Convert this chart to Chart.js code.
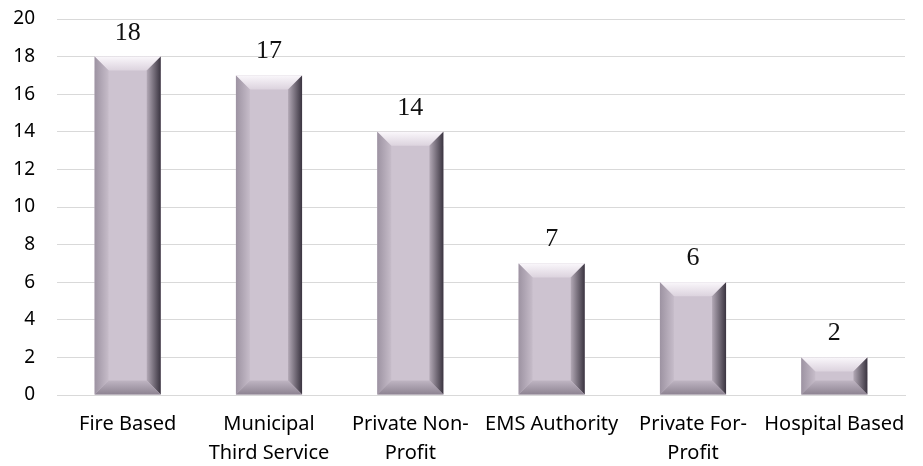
<!DOCTYPE html>
<html>
<head>
<meta charset="utf-8">
<script src="https://cdn.jsdelivr.net/npm/chart.js@4/dist/chart.umd.min.js"></script>
<style>
  html, body { margin: 0; padding: 0; background: #fff; }
  #wrap { width: 923px; height: 466px; position: relative; }
</style>
</head>
<body>
<div id="wrap"><canvas id="chart"></canvas></div>
<script>
// agency types and counts
const CATEGORIES = [
  'Fire Based',
  ['Municipal', 'Third Service'],
  ['Private Non-', 'Profit'],
  'EMS Authority',
  ['Private For-', 'Profit'],
  'Hospital Based'
];
const COUNTS = [18, 17, 14, 7, 6, 2];
const Y_TICKS = [0, 2, 4, 6, 8, 10, 12, 14, 16, 18, 20];

const BASE = '#cdc3d0';

// draws the bevelled edges on each bar + the value above it
const bevelBars = {
  id: 'bevelBars',
  afterDatasetsDraw(c) {
    const ctx = c.ctx;
    const meta = c.getDatasetMeta(0);
    meta.data.forEach((bar, i) => {
      const l = bar.x - bar.width / 2, r = bar.x + bar.width / 2;
      const t = bar.y, b = bar.base;
      const k = Math.min(14, (b - t) / 2.6);
      ctx.save();

      // top
      let g = ctx.createLinearGradient(0, t, 0, t + k);
      g.addColorStop(0, '#faf7fb'); g.addColorStop(1, '#dcd3de');
      ctx.fillStyle = g;
      ctx.beginPath(); ctx.moveTo(l, t); ctx.lineTo(r, t); ctx.lineTo(r - k, t + k); ctx.lineTo(l + k, t + k); ctx.closePath(); ctx.fill();

      // left
      g = ctx.createLinearGradient(l, 0, l + k, 0);
      g.addColorStop(0, '#9d93a2'); g.addColorStop(1, '#c6bcc9');
      ctx.fillStyle = g;
      ctx.beginPath(); ctx.moveTo(l, t); ctx.lineTo(l + k, t + k); ctx.lineTo(l + k, b - k); ctx.lineTo(l, b); ctx.closePath(); ctx.fill();

      // right
      g = ctx.createLinearGradient(r - k, 0, r, 0);
      g.addColorStop(0, '#b3a9b6'); g.addColorStop(1, '#3a3440');
      ctx.fillStyle = g;
      ctx.beginPath(); ctx.moveTo(r, t); ctx.lineTo(r, b); ctx.lineTo(r - k, b - k); ctx.lineTo(r - k, t + k); ctx.closePath(); ctx.fill();

      // bottom
      g = ctx.createLinearGradient(0, b - k, 0, b);
      g.addColorStop(0, '#bfb5c2'); g.addColorStop(1, '#8d8392');
      ctx.fillStyle = g;
      ctx.beginPath(); ctx.moveTo(l, b); ctx.lineTo(l + k, b - k); ctx.lineTo(r - k, b - k); ctx.lineTo(r, b); ctx.closePath(); ctx.fill();

      // value label
      ctx.fillStyle = '#111';
      ctx.font = '26px "Liberation Serif", serif';
      ctx.textAlign = 'center';
      ctx.textBaseline = 'alphabetic';
      ctx.fillText(String(COUNTS[i]), bar.x, t - 17);
      ctx.restore();
    });
  }
};

const chart = new Chart(document.getElementById('chart'), {
  type: 'bar',
  data: {
    labels: CATEGORIES,
    datasets: [{
      data: COUNTS,
      backgroundColor: BASE,
      borderWidth: 0,
      barPercentage: 0.78,
      categoryPercentage: 0.6
    }]
  },
  options: {
    responsive: true,
    maintainAspectRatio: false,
    animation: false,
    layout: { padding: { top: 19, right: 18, left: 4, bottom: 0 } },
    plugins: { legend: { display: false }, tooltip: { enabled: false } },
    scales: {
      x: {
        grid: { display: false, drawTicks: false },
        border: { color: '#d9d9d9', width: 1 },
        ticks: { color: '#000', font: { family: '"Noto Sans", sans-serif', size: 20, lineHeight: 1.45 }, padding: 15, maxRotation: 0, autoSkip: false },
        afterFit: s => { s.height = 71; }
      },
      y: {
        min: 0, max: 20,
        afterBuildTicks: s => { s.ticks = Y_TICKS.map(v => ({ value: v })); },
        grid: { color: '#d9d9d9', lineWidth: 1, drawTicks: false },
        border: { display: false },
        ticks: { color: '#000', font: { family: '"Noto Sans", sans-serif', size: 19 }, padding: 22 },
        afterFit: s => { s.width = 53; s.paddingTop = 11; s.paddingBottom = 11; }
      }
    }
  },
  plugins: [bevelBars]
});
</script>
</body>
</html>
